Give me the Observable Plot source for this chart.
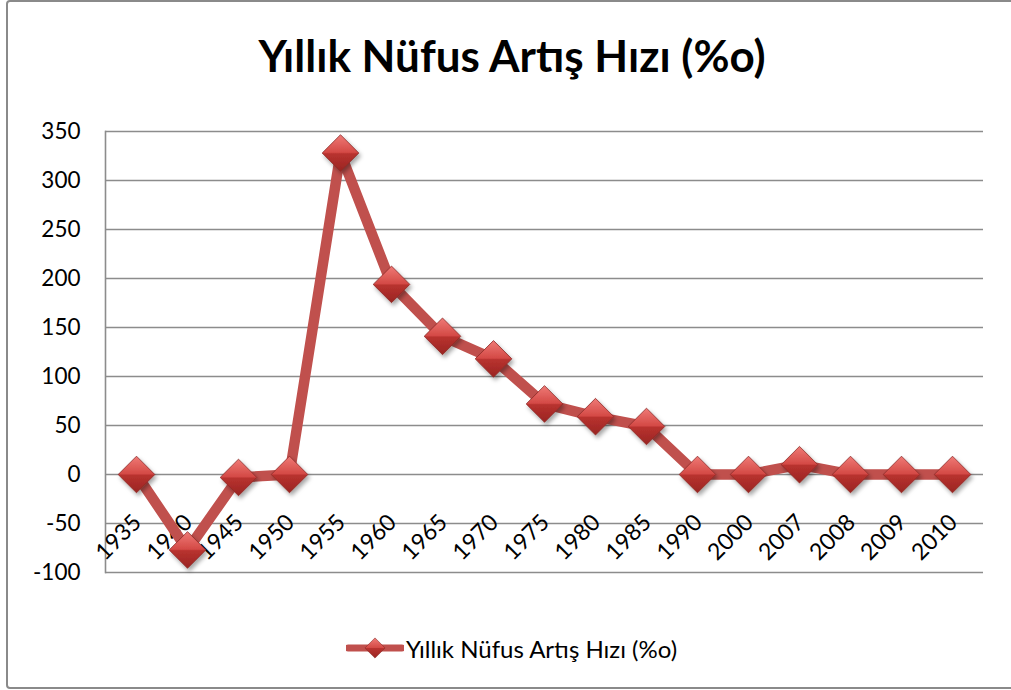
<!DOCTYPE html>
<html><head><meta charset="utf-8">
<script src="https://cdn.jsdelivr.net/npm/d3@7"></script>
<script src="https://cdn.jsdelivr.net/npm/@observablehq/plot@0.6"></script>
<style>
body{margin:0;background:#fff;}
#wrap{position:relative;width:1011px;height:690px;overflow:hidden;font-family:Lato,"Open Sans",sans-serif;color:#000;}
#border{position:absolute;left:6px;top:0px;width:1030px;height:689px;border:2px solid #8a8a8a;border-radius:4px;box-sizing:border-box;}
#title{position:absolute;left:0;width:1024px;top:28px;text-align:center;font-weight:bold;font-size:44px;line-height:54px;}
#chart{position:absolute;left:0;top:0;}
#legend{position:absolute;left:346px;top:633px;height:30px;display:flex;align-items:center;font-size:24px;}
#legend svg{margin-right:2px;}
</style></head>
<body><div id="wrap"><div id="border"></div><div id="chart"></div><div id="title"></div><div id="legend"></div></div>
<script>
const seriesName = "Yıllık Nüfus Artış Hızı (%o)";
const years = ["1935","1940","1945","1950","1955","1960","1965","1970","1975","1980","1985","1990","2000","2007","2008","2009","2010"];
const rates = [0,-77,-3,0,328,194,141,118,72,59,49,0,0,10,0,0,0];
const yTicks = [-100,-50,0,50,100,150,200,250,300,350];
const lineColor = "#c0504d";

const data = years.map((y,i)=>({year:y, rate:rates[i]}));

document.getElementById("title").textContent = seriesName;

const plot = Plot.plot({
  width: 1011,
  height: 600,
  marginLeft: 105,
  marginRight: 28,
  marginTop: 131,
  marginBottom: 28,
  style: {fontFamily: 'Lato, "Open Sans", sans-serif', fontSize: "22px", color: "#000", background: "transparent"},
  x: {type: "point", domain: years, padding: 0.5, axis: null},
  y: {domain: [-100, 350], ticks: yTicks, label: null},
  marks: [
    Plot.gridY(yTicks, {stroke: "#8c8c8c", strokeOpacity: 1, strokeWidth: 1.6}),
    Plot.frame({anchor: "left", stroke: "#8c8c8c", strokeWidth: 1.6}),
    Plot.axisY(yTicks, {tickSize: 0, tickPadding: 25, label: null, fontSize: 22.5, tickFormat: d => String(d)}),
    Plot.text(data, {x: "year", y: () => 0, text: "year", rotate: -45, textAnchor: "end", lineAnchor: "middle", dy: 44, dx: 1, fontSize: 23, fill: "#000"}),
    Plot.line(data, {x: "year", y: "rate", stroke: lineColor, strokeWidth: 10.5, strokeLinejoin: "miter", strokeLinecap: "butt"}),
    Plot.dot(data, {x: "year", y: "rate", symbol: "diamond2", r: 16.5, fill: "url(#dgrad)", stroke: "#8a2a27", strokeWidth: 0.8})
  ]
});

const defs = d3.select(plot).insert("defs", ":first-child");
const g = defs.append("linearGradient").attr("id","dgrad").attr("x1",0).attr("y1",0).attr("x2",0).attr("y2",1);
g.append("stop").attr("offset","0%").attr("stop-color","#ef7a76");
g.append("stop").attr("offset","48%").attr("stop-color","#d44a46");
g.append("stop").attr("offset","52%").attr("stop-color","#b8322f");
g.append("stop").attr("offset","100%").attr("stop-color","#9a2522");
const f = defs.append("filter").attr("id","dshadow").attr("x","-50%").attr("y","-50%").attr("width","200%").attr("height","200%");
f.append("feDropShadow").attr("dx",2).attr("dy",3).attr("stdDeviation",2).attr("flood-color","#000").attr("flood-opacity",0.35);
d3.select(plot).selectAll("path").filter(function(){return this.getAttribute("fill")==="url(#dgrad)" || (this.parentNode && this.parentNode.getAttribute("fill")==="url(#dgrad)");}).attr("filter","url(#dshadow)");

document.getElementById("chart").appendChild(plot);

// legend
const leg = document.getElementById("legend");
const ls = d3.create("svg").attr("width", 58).attr("height", 30);
ls.node().appendChild(defs.node().cloneNode(true));
ls.append("line").attr("x1",2).attr("x2",56).attr("y1",15).attr("y2",15).attr("stroke",lineColor).attr("stroke-width",7).attr("stroke-linecap","round");
ls.append("path").attr("d",d3.symbol(d3.symbolDiamond2, 260)()).attr("transform","translate(29,15)").attr("fill","url(#dgrad)").attr("stroke","#8a2a27").attr("stroke-width",0.6);
leg.appendChild(ls.node());
const lt = document.createElement("span"); lt.textContent = seriesName; leg.appendChild(lt);
</script></body></html>
